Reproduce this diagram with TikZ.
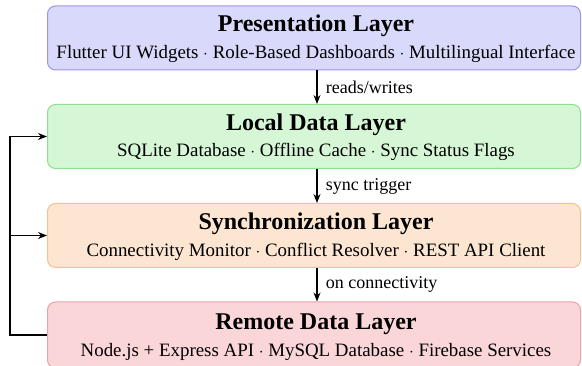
\documentclass[tikz,border=0pt]{standalone}
\usepackage{fontspec}
\setmainfont{Liberation Serif}
\usetikzlibrary{arrows.meta}
\definecolor{f1}{HTML}{D9D9FC}\definecolor{d1}{HTML}{9898E6}
\definecolor{f2}{HTML}{D5F7D5}\definecolor{d2}{HTML}{8EDE8E}
\definecolor{f3}{HTML}{FDE6D1}\definecolor{d3}{HTML}{F0C294}
\definecolor{f4}{HTML}{FBD6D9}\definecolor{d4}{HTML}{E8A2AA}
\tikzset{
  layer/.style={rounded corners=8pt, line width=1pt, minimum width=533pt, minimum height=64pt, inner sep=0pt},
  ttl/.style={font=\fontsize{24}{28}\selectfont\bfseries},
  sub/.style={font=\fontsize{18.9}{22}\selectfont},
  lbl/.style={font=\fontsize{18}{21}\selectfont, anchor=west},
  arr/.style={-{Stealth[length=9pt,width=7pt]}, line width=1.3pt},
}
\begin{document}
\begin{tikzpicture}[x=1pt,y=1pt]
\useasboundingbox (0,0) rectangle (582,366);
% y_tikz = 366 - y_px
\node[layer, fill=f1, draw=d1] (L1) at (314,328) {};
\node[layer, fill=f2, draw=d2] (L2) at (314,229.5) {};
\node[layer, fill=f3, draw=d3] (L3) at (314,130.5) {};
\node[layer, fill=f4, draw=d4, minimum height=66pt] (L4) at (314,31) {};
\node[ttl] (T1) at (316,340) {Presentation Layer};
\node[sub] (S1) at (316,312) {Flutter UI Widgets $\cdot$ Role-Based Dashboards $\cdot$ Multilingual Interface};
\node[ttl] (T2) at (316,241) {Local Data Layer};
\node[sub] (S2) at (316,214) {SQLite Database $\cdot$ Offline Cache $\cdot$ Sync Status Flags};
\node[ttl] (T3) at (316,142) {Synchronization Layer};
\node[sub] (S3) at (316,114) {Connectivity Monitor $\cdot$ Conflict Resolver $\cdot$ REST API Client};
\node[ttl] (T4) at (316,42) {Remote Data Layer};
\node[sub] (S4) at (316,14.5) {Node.js + Express API $\cdot$ MySQL Database $\cdot$ Firebase Services};
\draw[arr] (L1.south -| 317,0) -- (L2.north -| 317,0) node[midway, lbl, xshift=5pt] {reads/writes};
\draw[arr] (L2.south -| 317,0) -- (L3.north -| 317,0) node[midway, lbl, xshift=5pt] {sync trigger};
\draw[arr] (L3.south -| 317,0) -- (L4.north -| 317,0) node[midway, lbl, xshift=5pt] {on connectivity};
\coordinate (c4) at (10,31);
\coordinate (c2) at (10,229.5);
\coordinate (c3) at (10,130.5);
\draw[line width=1.3pt] (L4.west) -- (c4) -- (c2);
\draw[arr] (c2) -- (L2.west);
\draw[arr] (c3) -- (L3.west);
\end{tikzpicture}
\end{document}
